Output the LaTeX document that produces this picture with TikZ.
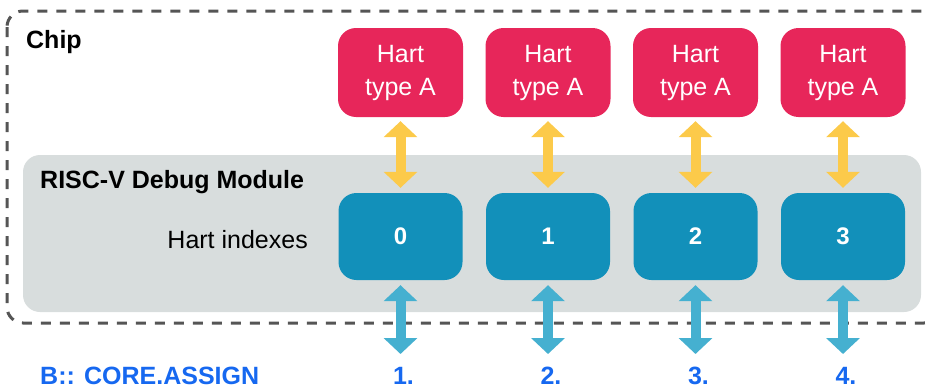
\documentclass[tikz,border=0pt]{standalone}
\usepackage{fontspec}
\setmainfont{Liberation Sans}
\usetikzlibrary{arrows.meta}
\definecolor{hartred}{RGB}{231,38,90}
\definecolor{idxblue}{RGB}{18,144,186}
\definecolor{modgrey}{RGB}{216,221,221}
\definecolor{arrowyellow}{RGB}{252,202,74}
\definecolor{arrowblue}{RGB}{69,176,208}
\definecolor{dashgrey}{RGB}{85,85,85}
\definecolor{labelblue}{RGB}{22,104,240}
\tikzset{
  hartbox/.style={draw=none, fill=hartred, rounded corners=18pt, minimum width=125pt, minimum height=89pt,
    text=white, align=center, inner sep=0pt, font=\fontsize{25}{33}\selectfont},
  idxbox/.style={draw=none, fill=idxblue, rounded corners=18pt, minimum width=124pt, minimum height=87pt,
    text=white, inner sep=0pt, font=\fontsize{24}{29}\selectfont\bfseries},
  yarrow/.style={draw=arrowyellow, line width=10pt, {Triangle[width=33pt,length=16pt]}-{Triangle[width=33pt,length=16pt]},
    shorten <=4pt, shorten >=5pt},
  barrow/.style={draw=arrowblue, line width=10pt, {Triangle[width=33pt,length=16pt]}-{Triangle[width=33pt,length=16pt]},
    shorten <=5pt},
  title/.style={font=\fontsize{25}{30}\selectfont\bfseries, inner sep=0pt},
  plain/.style={font=\fontsize{25}{30}\selectfont, inner sep=0pt},
  numlabel/.style={font=\fontsize{25}{30}\selectfont\bfseries, text=labelblue, inner sep=0pt},
}
\begin{document}
\begin{tikzpicture}[x=1pt,y=-1pt]
\useasboundingbox (0,0) rectangle (926,388);
% chip dashed border
\draw[dashgrey, line width=3pt, dash pattern=on 10pt off 9pt, rounded corners=16pt] (7,11) rectangle (940,323);
% debug module
\fill[modgrey, rounded corners=17pt] (23,155) rectangle (921,312);
\node[title, anchor=base west] (chip) at (26,48) {Chip};
\node[title, anchor=base west] (dm) at (40,188) {RISC-V Debug Module};
\node[plain, anchor=base east] (hi) at (308,248) {Hart indexes};
\node[numlabel, anchor=base west] (ca) at (40,384) {B:: CORE.ASSIGN};
\foreach \i/\x/\n in {0/400.5/1, 1/548/2, 2/695.5/3, 3/843/4} {
  \node[hartbox] (h\i) at (\x,72.5) {Hart\\type A};
  \node[idxbox] (b\i) at (\x,236.5) {\i};
  \coordinate (e\i) at (\x,354);
  \draw[yarrow] (h\i.south) -- (b\i.north);
  \draw[barrow] (b\i.south) -- (e\i);
  \node[numlabel, anchor=base] (n\i) at (\x+3,384) {\n.};
}
\end{tikzpicture}
\end{document}
